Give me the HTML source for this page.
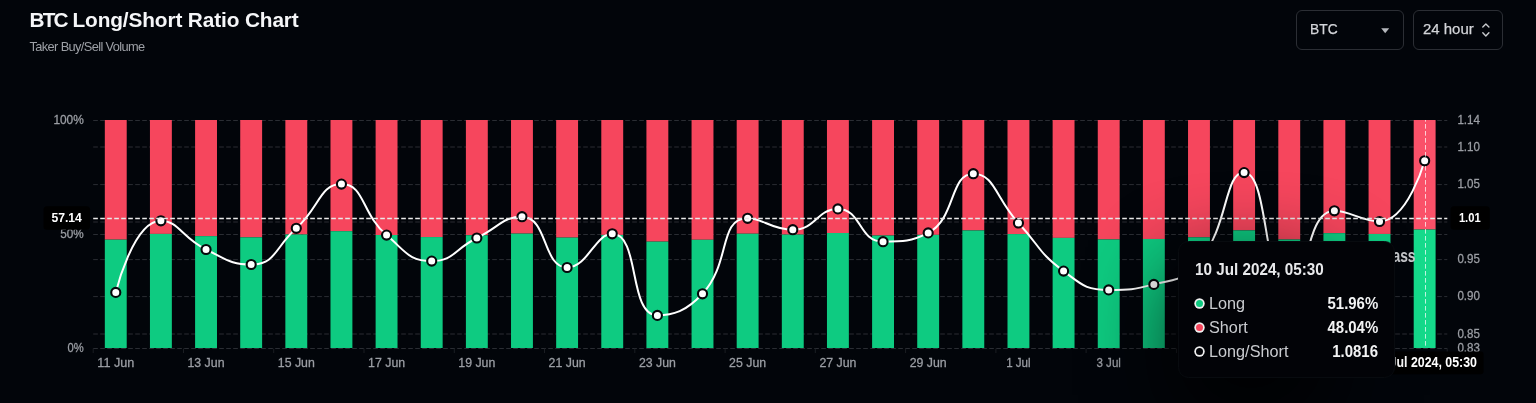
<!DOCTYPE html>
<html lang="en"><head><meta charset="utf-8"><title>BTC Long/Short Ratio Chart</title>
<style>
html,body{margin:0;padding:0;background:#02050a;}
body{width:1536px;height:403px;position:relative;overflow:hidden;font-family:"Liberation Sans",sans-serif;color:#fff;}
.title{position:absolute;left:29.5px;top:7px;font-size:20.8px;line-height:26px;font-weight:700;color:#f5f6f8;white-space:nowrap;letter-spacing:-0.12px;}
.sub{position:absolute;left:29.5px;top:39.4px;font-size:12.8px;line-height:16px;color:#9da0a6;white-space:nowrap;letter-spacing:-0.62px;}
.sel{position:absolute;top:10px;height:38px;border:1px solid #2b2e34;border-radius:6px;box-sizing:content-box;}
.sel span{position:absolute;top:9px;font-size:15.5px;line-height:18px;color:#d3d5d9;white-space:nowrap;transform-origin:0 50%;-webkit-text-stroke:0.25px #d3d5d9;}
svg.chart{position:absolute;left:0;top:0;}
svg text{font-family:"Liberation Sans",sans-serif;}
.g{stroke:#2a2d33;stroke-width:1;stroke-dasharray:4.67 2.33;}
.t{stroke:#1b1e23;stroke-width:1;}
.c{stroke:#e9e9e9;stroke-width:1.3;stroke-dasharray:4.67 2.33;}
.c2{stroke:#fff;stroke-opacity:.72;stroke-width:1;stroke-dasharray:4.67 2.33;stroke-dashoffset:3;}
.ax{font-size:12.9px;fill:#9b9ea4;stroke:#9b9ea4;stroke-width:.3px;}
.pl{font-size:13.5px;font-weight:700;fill:#fff;}
.pl2{font-size:14px;font-weight:700;fill:#fff;}
.wm{font-size:18.5px;font-weight:700;fill:#c6c8cb;}
.tip{position:absolute;left:1177.5px;top:240.5px;width:217px;height:137.5px;border-radius:10.5px;background:#020307;box-sizing:border-box;border:1px solid #080b0f;}
.sh{position:absolute;left:1172px;top:270px;width:158px;height:155px;background:#000;opacity:.8;filter:blur(45px);}
.tip .h{position:absolute;left:16.3px;top:19.4px;font-size:16.4px;line-height:16px;font-weight:700;color:#e8e9eb;white-space:nowrap;transform:scaleX(.93);transform-origin:0 50%;}
.row{position:absolute;left:-1px;width:217px;margin-top:-1px;height:24px;}
.row i{position:absolute;left:18.2px;top:8.1px;width:7.4px;height:7.4px;border-radius:50%;box-shadow:0 0 0 1.7px #f0f0f0;}
.row b{position:absolute;left:31.3px;top:3px;font-size:15.7px;line-height:18px;font-weight:400;color:#c9cbcf;white-space:nowrap;transform:scaleX(1.035);transform-origin:0 50%;}
.row em{position:absolute;right:16.6px;top:3px;font-size:15.7px;line-height:18px;font-style:normal;font-weight:700;color:#f2f3f4;white-space:nowrap;transform:scaleX(.953);transform-origin:100% 50%;}
</style></head><body>
<div class="title"><span style="letter-spacing:-1.8px">BTC</span> Long/Short Ratio Chart</div>
<div class="sub">Taker Buy/Sell Volume</div>
<div class="sel" style="left:1296px;width:106px"><span style="left:13.3px;transform:scaleX(.89)">BTC</span>
<svg width="12" height="8" style="position:absolute;left:83px;top:16px"><path d="M1.2 1.2H9.2L5.2 6.2Z" fill="#b4b7bc"/></svg></div>
<div class="sel" style="left:1413px;width:88px"><span style="left:9px;transform:scaleX(.965)">24 hour</span>
<svg width="12" height="18" style="position:absolute;left:66px;top:11px" fill="none" stroke="#c8cacd" stroke-width="1.4" stroke-linecap="round" stroke-linejoin="round"><path d="M2.8 5.1L5.85 2.1L8.9 5.1M2.8 10.7L5.85 13.9L8.9 10.7"/></svg></div>
<svg class="chart" width="1536" height="403" viewBox="0 0 1536 403">
<line x1="93.2" y1="120.5" x2="1447.3" y2="120.5" class="g"/>
<line x1="93.2" y1="147.0" x2="1447.3" y2="147.0" class="g"/>
<line x1="93.2" y1="184.6" x2="1447.3" y2="184.6" class="g"/>
<line x1="93.2" y1="222.0" x2="1447.3" y2="222.0" class="g"/>
<line x1="93.2" y1="234.5" x2="1447.3" y2="234.5" class="g"/>
<line x1="93.2" y1="259.6" x2="1447.3" y2="259.6" class="g"/>
<line x1="93.2" y1="296.6" x2="1447.3" y2="296.6" class="g"/>
<line x1="93.2" y1="334.0" x2="1447.3" y2="334.0" class="g"/>
<line x1="93.2" y1="348.5" x2="1447.3" y2="348.5" class="g"/>
<line x1="93.2" y1="348.5" x2="93.2" y2="353" class="t"/>
<line x1="183.5" y1="348.5" x2="183.5" y2="353" class="t"/>
<line x1="273.7" y1="348.5" x2="273.7" y2="353" class="t"/>
<line x1="364.0" y1="348.5" x2="364.0" y2="353" class="t"/>
<line x1="454.3" y1="348.5" x2="454.3" y2="353" class="t"/>
<line x1="544.5" y1="348.5" x2="544.5" y2="353" class="t"/>
<line x1="634.8" y1="348.5" x2="634.8" y2="353" class="t"/>
<line x1="725.1" y1="348.5" x2="725.1" y2="353" class="t"/>
<line x1="815.3" y1="348.5" x2="815.3" y2="353" class="t"/>
<line x1="905.6" y1="348.5" x2="905.6" y2="353" class="t"/>
<line x1="995.9" y1="348.5" x2="995.9" y2="353" class="t"/>
<line x1="1086.1" y1="348.5" x2="1086.1" y2="353" class="t"/>
<line x1="1176.4" y1="348.5" x2="1176.4" y2="353" class="t"/>
<line x1="1266.7" y1="348.5" x2="1266.7" y2="353" class="t"/>
<line x1="1357.0" y1="348.5" x2="1357.0" y2="353" class="t"/>
<line x1="1447.2" y1="348.5" x2="1447.2" y2="353" class="t"/>
<rect x="104.82" y="120" width="21.9" height="119.65" fill="#f6465d"/>
<rect x="104.82" y="239.65" width="21.9" height="108.35" fill="#0ecb81"/>
<rect x="149.95" y="120" width="21.9" height="113.91" fill="#f6465d"/>
<rect x="149.95" y="233.91" width="21.9" height="114.09" fill="#0ecb81"/>
<rect x="195.09" y="120" width="21.9" height="116.14" fill="#f6465d"/>
<rect x="195.09" y="236.14" width="21.9" height="111.86" fill="#0ecb81"/>
<rect x="240.22" y="120" width="21.9" height="117.34" fill="#f6465d"/>
<rect x="240.22" y="237.34" width="21.9" height="110.66" fill="#0ecb81"/>
<rect x="285.35" y="120" width="21.9" height="114.48" fill="#f6465d"/>
<rect x="285.35" y="234.48" width="21.9" height="113.52" fill="#0ecb81"/>
<rect x="330.49" y="120" width="21.9" height="111.18" fill="#f6465d"/>
<rect x="330.49" y="231.18" width="21.9" height="116.82" fill="#0ecb81"/>
<rect x="375.62" y="120" width="21.9" height="115.01" fill="#f6465d"/>
<rect x="375.62" y="235.01" width="21.9" height="112.99" fill="#0ecb81"/>
<rect x="420.75" y="120" width="21.9" height="117.07" fill="#f6465d"/>
<rect x="420.75" y="237.07" width="21.9" height="110.93" fill="#0ecb81"/>
<rect x="465.89" y="120" width="21.9" height="115.24" fill="#f6465d"/>
<rect x="465.89" y="235.24" width="21.9" height="112.76" fill="#0ecb81"/>
<rect x="511.02" y="120" width="21.9" height="113.60" fill="#f6465d"/>
<rect x="511.02" y="233.60" width="21.9" height="114.40" fill="#0ecb81"/>
<rect x="556.16" y="120" width="21.9" height="117.59" fill="#f6465d"/>
<rect x="556.16" y="237.59" width="21.9" height="110.41" fill="#0ecb81"/>
<rect x="601.29" y="120" width="21.9" height="114.91" fill="#f6465d"/>
<rect x="601.29" y="234.91" width="21.9" height="113.09" fill="#0ecb81"/>
<rect x="646.42" y="120" width="21.9" height="121.61" fill="#f6465d"/>
<rect x="646.42" y="241.61" width="21.9" height="106.39" fill="#0ecb81"/>
<rect x="691.56" y="120" width="21.9" height="119.76" fill="#f6465d"/>
<rect x="691.56" y="239.76" width="21.9" height="108.24" fill="#0ecb81"/>
<rect x="736.69" y="120" width="21.9" height="113.72" fill="#f6465d"/>
<rect x="736.69" y="233.72" width="21.9" height="114.28" fill="#0ecb81"/>
<rect x="781.83" y="120" width="21.9" height="114.59" fill="#f6465d"/>
<rect x="781.83" y="234.59" width="21.9" height="113.41" fill="#0ecb81"/>
<rect x="826.96" y="120" width="21.9" height="113.01" fill="#f6465d"/>
<rect x="826.96" y="233.01" width="21.9" height="114.99" fill="#0ecb81"/>
<rect x="872.10" y="120" width="21.9" height="115.53" fill="#f6465d"/>
<rect x="872.10" y="235.53" width="21.9" height="112.47" fill="#0ecb81"/>
<rect x="917.23" y="120" width="21.9" height="114.84" fill="#f6465d"/>
<rect x="917.23" y="234.84" width="21.9" height="113.16" fill="#0ecb81"/>
<rect x="962.36" y="120" width="21.9" height="110.43" fill="#f6465d"/>
<rect x="962.36" y="230.43" width="21.9" height="117.57" fill="#0ecb81"/>
<rect x="1007.50" y="120" width="21.9" height="114.08" fill="#f6465d"/>
<rect x="1007.50" y="234.08" width="21.9" height="113.92" fill="#0ecb81"/>
<rect x="1052.63" y="120" width="21.9" height="117.88" fill="#f6465d"/>
<rect x="1052.63" y="237.88" width="21.9" height="110.12" fill="#0ecb81"/>
<rect x="1097.76" y="120" width="21.9" height="119.44" fill="#f6465d"/>
<rect x="1097.76" y="239.44" width="21.9" height="108.56" fill="#0ecb81"/>
<rect x="1142.90" y="120" width="21.9" height="118.98" fill="#f6465d"/>
<rect x="1142.90" y="238.98" width="21.9" height="109.02" fill="#0ecb81"/>
<rect x="1188.03" y="120" width="21.9" height="117.30" fill="#f6465d"/>
<rect x="1188.03" y="237.30" width="21.9" height="110.70" fill="#0ecb81"/>
<rect x="1233.17" y="120" width="21.9" height="110.35" fill="#f6465d"/>
<rect x="1233.17" y="230.35" width="21.9" height="117.65" fill="#0ecb81"/>
<rect x="1278.30" y="120" width="21.9" height="119.50" fill="#f6465d"/>
<rect x="1278.30" y="239.50" width="21.9" height="108.50" fill="#0ecb81"/>
<rect x="1323.43" y="120" width="21.9" height="113.15" fill="#f6465d"/>
<rect x="1323.43" y="233.15" width="21.9" height="114.85" fill="#0ecb81"/>
<rect x="1368.57" y="120" width="21.9" height="113.96" fill="#f6465d"/>
<rect x="1368.57" y="233.96" width="21.9" height="114.04" fill="#0ecb81"/>
<rect x="1413.70" y="120" width="21.9" height="109.53" fill="#fa5169"/>
<rect x="1413.70" y="229.53" width="21.9" height="118.47" fill="#15da8b"/>
<path d="M115.77,292.40 C115.77,292.40 133.24,220.80 160.90,220.80 C178.38,220.80 182.14,237.93 206.04,249.50 C227.28,259.78 230.81,264.50 251.17,264.50 C275.94,264.50 274.73,247.52 296.30,228.30 C319.86,207.32 319.72,184.10 341.44,184.10 C364.85,184.10 361.00,213.28 386.57,235.10 C406.13,251.78 408.83,261.10 431.70,261.10 C453.97,261.10 454.09,249.19 476.84,238.00 C499.23,226.99 502.86,216.70 521.97,216.70 C548.00,216.70 542.43,267.50 567.11,267.50 C587.56,267.50 595.24,233.80 612.24,233.80 C640.38,233.80 628.00,315.40 657.38,315.40 C673.14,315.40 686.14,311.40 702.51,293.80 C731.28,262.85 718.13,218.30 747.64,218.30 C763.26,218.30 770.95,229.70 792.78,229.70 C816.08,229.70 816.65,208.90 837.91,208.90 C861.78,208.90 858.30,241.70 883.05,241.70 C903.44,241.70 910.94,241.70 928.18,232.90 C956.08,218.65 949.53,173.70 973.31,173.70 C994.67,173.70 995.73,198.49 1018.45,223.00 C1040.86,247.19 1037.66,251.89 1063.58,271.10 C1082.79,285.34 1085.33,289.90 1108.71,289.90 C1130.46,289.90 1132.39,289.90 1153.85,284.40 C1177.52,278.33 1183.96,281.10 1198.98,262.50 C1229.10,225.20 1224.06,172.60 1244.12,172.60 C1269.19,172.60 1263.08,290.00 1289.25,290.00 C1308.22,290.00 1304.47,210.80 1334.38,210.80 C1349.61,210.80 1362.36,221.50 1379.52,221.50 C1407.50,221.50 1424.65,160.80 1424.65,160.80" fill="none" stroke="#fff" stroke-width="2" stroke-linejoin="round"/>
<circle cx="115.77" cy="292.40" r="4.55" fill="#fff" stroke="#06080b" stroke-width="2.1"/>
<circle cx="160.90" cy="220.80" r="4.55" fill="#fff" stroke="#06080b" stroke-width="2.1"/>
<circle cx="206.04" cy="249.50" r="4.55" fill="#fff" stroke="#06080b" stroke-width="2.1"/>
<circle cx="251.17" cy="264.50" r="4.55" fill="#fff" stroke="#06080b" stroke-width="2.1"/>
<circle cx="296.30" cy="228.30" r="4.55" fill="#fff" stroke="#06080b" stroke-width="2.1"/>
<circle cx="341.44" cy="184.10" r="4.55" fill="#fff" stroke="#06080b" stroke-width="2.1"/>
<circle cx="386.57" cy="235.10" r="4.55" fill="#fff" stroke="#06080b" stroke-width="2.1"/>
<circle cx="431.70" cy="261.10" r="4.55" fill="#fff" stroke="#06080b" stroke-width="2.1"/>
<circle cx="476.84" cy="238.00" r="4.55" fill="#fff" stroke="#06080b" stroke-width="2.1"/>
<circle cx="521.97" cy="216.70" r="4.55" fill="#fff" stroke="#06080b" stroke-width="2.1"/>
<circle cx="567.11" cy="267.50" r="4.55" fill="#fff" stroke="#06080b" stroke-width="2.1"/>
<circle cx="612.24" cy="233.80" r="4.55" fill="#fff" stroke="#06080b" stroke-width="2.1"/>
<circle cx="657.38" cy="315.40" r="4.55" fill="#fff" stroke="#06080b" stroke-width="2.1"/>
<circle cx="702.51" cy="293.80" r="4.55" fill="#fff" stroke="#06080b" stroke-width="2.1"/>
<circle cx="747.64" cy="218.30" r="4.55" fill="#fff" stroke="#06080b" stroke-width="2.1"/>
<circle cx="792.78" cy="229.70" r="4.55" fill="#fff" stroke="#06080b" stroke-width="2.1"/>
<circle cx="837.91" cy="208.90" r="4.55" fill="#fff" stroke="#06080b" stroke-width="2.1"/>
<circle cx="883.05" cy="241.70" r="4.55" fill="#fff" stroke="#06080b" stroke-width="2.1"/>
<circle cx="928.18" cy="232.90" r="4.55" fill="#fff" stroke="#06080b" stroke-width="2.1"/>
<circle cx="973.31" cy="173.70" r="4.55" fill="#fff" stroke="#06080b" stroke-width="2.1"/>
<circle cx="1018.45" cy="223.00" r="4.55" fill="#fff" stroke="#06080b" stroke-width="2.1"/>
<circle cx="1063.58" cy="271.10" r="4.55" fill="#fff" stroke="#06080b" stroke-width="2.1"/>
<circle cx="1108.71" cy="289.90" r="4.55" fill="#fff" stroke="#06080b" stroke-width="2.1"/>
<circle cx="1153.85" cy="284.40" r="4.55" fill="#fff" stroke="#06080b" stroke-width="2.1"/>
<circle cx="1198.98" cy="262.50" r="4.55" fill="#fff" stroke="#06080b" stroke-width="2.1"/>
<circle cx="1244.12" cy="172.60" r="4.55" fill="#fff" stroke="#06080b" stroke-width="2.1"/>
<circle cx="1289.25" cy="290.00" r="4.55" fill="#fff" stroke="#06080b" stroke-width="2.1"/>
<circle cx="1334.38" cy="210.80" r="4.55" fill="#fff" stroke="#06080b" stroke-width="2.1"/>
<circle cx="1379.52" cy="221.50" r="4.55" fill="#fff" stroke="#06080b" stroke-width="2.1"/>
<circle cx="1424.65" cy="160.80" r="4.55" fill="#fff" stroke="#06080b" stroke-width="2.1"/>
<line x1="93.2" y1="218.5" x2="1447.3" y2="218.5" class="c"/>
<line x1="1425.5" y1="120" x2="1425.5" y2="348" class="c2"/>
<text x="83.8" y="124.0" class="ax" text-anchor="end" textLength="30.4" lengthAdjust="spacingAndGlyphs">100%</text>
<text x="83.8" y="238.0" class="ax" text-anchor="end" textLength="23.5" lengthAdjust="spacingAndGlyphs">50%</text>
<text x="83.8" y="351.6" class="ax" text-anchor="end" textLength="16.2" lengthAdjust="spacingAndGlyphs">0%</text>
<text x="1457.4" y="124.3" class="ax" text-anchor="start" textLength="22.6" lengthAdjust="spacingAndGlyphs">1.14</text>
<text x="1457.4" y="151.10000000000002" class="ax" text-anchor="start" textLength="22.6" lengthAdjust="spacingAndGlyphs">1.10</text>
<text x="1457.4" y="187.9" class="ax" text-anchor="start" textLength="22.6" lengthAdjust="spacingAndGlyphs">1.05</text>
<text x="1457.4" y="262.90000000000003" class="ax" text-anchor="start" textLength="22.6" lengthAdjust="spacingAndGlyphs">0.95</text>
<text x="1457.4" y="299.90000000000003" class="ax" text-anchor="start" textLength="22.6" lengthAdjust="spacingAndGlyphs">0.90</text>
<text x="1457.4" y="337.7" class="ax" text-anchor="start" textLength="22.6" lengthAdjust="spacingAndGlyphs">0.85</text>
<text x="1457.4" y="351.7" class="ax" text-anchor="start" textLength="22.6" lengthAdjust="spacingAndGlyphs">0.83</text>
<text x="115.8" y="366.7" class="ax" text-anchor="middle" textLength="37.0" lengthAdjust="spacingAndGlyphs">11 Jun</text>
<text x="206.0" y="366.7" class="ax" text-anchor="middle" textLength="37.0" lengthAdjust="spacingAndGlyphs">13 Jun</text>
<text x="296.3" y="366.7" class="ax" text-anchor="middle" textLength="37.0" lengthAdjust="spacingAndGlyphs">15 Jun</text>
<text x="386.6" y="366.7" class="ax" text-anchor="middle" textLength="37.0" lengthAdjust="spacingAndGlyphs">17 Jun</text>
<text x="476.8" y="366.7" class="ax" text-anchor="middle" textLength="37.0" lengthAdjust="spacingAndGlyphs">19 Jun</text>
<text x="567.1" y="366.7" class="ax" text-anchor="middle" textLength="37.0" lengthAdjust="spacingAndGlyphs">21 Jun</text>
<text x="657.4" y="366.7" class="ax" text-anchor="middle" textLength="37.0" lengthAdjust="spacingAndGlyphs">23 Jun</text>
<text x="747.6" y="366.7" class="ax" text-anchor="middle" textLength="37.0" lengthAdjust="spacingAndGlyphs">25 Jun</text>
<text x="837.9" y="366.7" class="ax" text-anchor="middle" textLength="37.0" lengthAdjust="spacingAndGlyphs">27 Jun</text>
<text x="928.2" y="366.7" class="ax" text-anchor="middle" textLength="37.0" lengthAdjust="spacingAndGlyphs">29 Jun</text>
<text x="1018.4" y="366.7" class="ax" text-anchor="middle" textLength="24.5" lengthAdjust="spacingAndGlyphs">1 Jul</text>
<text x="1108.7" y="366.7" class="ax" text-anchor="middle" textLength="24.5" lengthAdjust="spacingAndGlyphs">3 Jul</text>
<text x="1199.0" y="366.7" class="ax" text-anchor="middle" textLength="24.5" lengthAdjust="spacingAndGlyphs">5 Jul</text>
<text x="1289.3" y="366.7" class="ax" text-anchor="middle" textLength="24.5" lengthAdjust="spacingAndGlyphs">7 Jul</text>
<text x="1379.5" y="366.7" class="ax" text-anchor="middle" textLength="24.5" lengthAdjust="spacingAndGlyphs">9 Jul</text>
<text x="1415.6" y="261.6" class="wm" text-anchor="end" textLength="64" lengthAdjust="spacingAndGlyphs">coinglass</text>
<rect x="43.5" y="206.2" width="46.5" height="23.6" rx="3.5" fill="#000"/>
<text x="66.65" y="221.9" class="pl" text-anchor="middle" textLength="30.5" lengthAdjust="spacingAndGlyphs">57.14</text>
<rect x="1450.6" y="206.2" width="39.2" height="23.5" rx="3.5" fill="#000"/>
<text x="1469.75" y="221.9" class="pl" text-anchor="middle" textLength="21.7" lengthAdjust="spacingAndGlyphs">1.01</text>
<rect x="1366" y="351.6" width="117.6" height="22.7" rx="3" fill="#000"/>
<text x="1424.7" y="366.8" class="pl2" text-anchor="middle" textLength="104.6" lengthAdjust="spacingAndGlyphs">10 Jul 2024, 05:30</text>
</svg>
<div class="sh"></div>
<div class="tip">
<div class="h">10 Jul 2024, 05:30</div>
<div class="row" style="top:51px"><i style="background:#0ecb81"></i><b>Long</b><em>51.96%</em></div>
<div class="row" style="top:75px"><i style="background:#f6465d"></i><b>Short</b><em>48.04%</em></div>
<div class="row" style="top:99px"><i style="background:#020307"></i><b>Long/Short</b><em>1.0816</em></div>
</div>
</body></html>
